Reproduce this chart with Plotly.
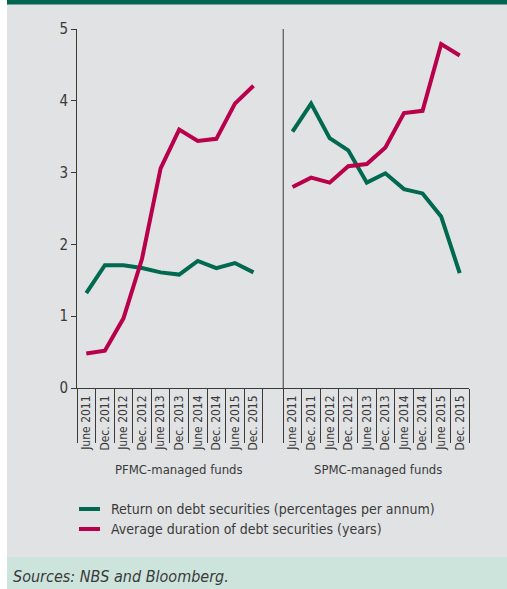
import plotly.graph_objects as go

# Half-year periods shown under each panel
periods = ["June 2011", "Dec. 2011", "June 2012", "Dec. 2012", "June 2013",
           "Dec. 2013", "June 2014", "Dec. 2014", "June 2015", "Dec. 2015"]

# PFMC-managed funds
pfmc_return = [1.32, 1.71, 1.71, 1.67, 1.61, 1.58, 1.77, 1.67, 1.74, 1.61]
pfmc_duration = [0.48, 0.52, 0.97, 1.80, 3.06, 3.60, 3.44, 3.47, 3.96, 4.21]

# SPMC-managed funds
spmc_return = [3.57, 3.96, 3.48, 3.31, 2.86, 2.99, 2.77, 2.71, 2.39, 1.60]
spmc_duration = [2.80, 2.93, 2.86, 3.09, 3.12, 3.35, 3.83, 3.86, 4.79, 4.63]

panel_titles = ["PFMC-managed funds", "SPMC-managed funds"]
series_names = ["Return on debt securities (percentages per annum)",
                "Average duration of debt securities (years)"]

GREEN = "#00694F"
RED = "#B8004B"
INK = "#3a3a3a"
FONT = "DejaVu Sans Condensed, Liberation Sans Narrow, sans-serif"

# category positions: second panel shifted right to leave a gap between panels
n = len(periods)
panel_offset = n + 1.1
x_left = list(range(n))
x_right = [panel_offset + i for i in range(n)]
centers = x_left + x_right
separators = [i - 0.5 for i in range(n + 1)] + [panel_offset + i - 0.5 for i in range(n + 1)]
divider_x = panel_offset - 0.5
x_range = [-0.5, panel_offset + n - 0.5]

fig = go.Figure()

for xs, ret, dur in [(x_left, pfmc_return, pfmc_duration),
                     (x_right, spmc_return, spmc_duration)]:
    fig.add_trace(go.Scatter(x=xs, y=ret, mode="lines", name=series_names[0],
                             line=dict(color=GREEN, width=4), showlegend=False))
    fig.add_trace(go.Scatter(x=xs, y=dur, mode="lines", name=series_names[1],
                             line=dict(color=RED, width=4), showlegend=False))

# invisible trace to carry the rotated period labels on the overlaying axis
fig.add_trace(go.Scatter(x=centers, y=[None] * len(centers), xaxis="x2",
                         showlegend=False, hoverinfo="skip"))

W, H = 507, 589
ml, mr, mt, mb = 77, 38, 29, 201
pw, ph = W - ml - mr, H - mt - mb


def px_x(px):
    return (px - ml) / pw


def px_y(py):
    return (H - mb - py) / ph


shapes = [
    # grey panel background
    dict(type="rect", xref="paper", yref="paper", x0=px_x(7), x1=px_x(W),
         y0=px_y(557), y1=px_y(0), fillcolor="#E1E2E4", line_width=0, layer="below"),
    # dark green strip at the top
    dict(type="rect", xref="paper", yref="paper", x0=px_x(7), x1=px_x(W),
         y0=px_y(4.5), y1=px_y(0), fillcolor="#00664E", line_width=0, layer="below"),
    # sources band
    dict(type="rect", xref="paper", yref="paper", x0=px_x(7), x1=px_x(W),
         y0=px_y(H), y1=px_y(557), fillcolor="#CDE4DC", line_width=0, layer="below"),
    # panel divider
    dict(type="line", xref="x", yref="y", x0=divider_x, x1=divider_x, y0=0, y1=5.03,
         line=dict(color=INK, width=1)),
]

annotations = [
    dict(text=panel_titles[0], x=(n - 1) / 2 + 0.5, y=px_y(469), xref="x", yref="paper",
         yanchor="middle", showarrow=False, font=dict(family=FONT, size=13, color=INK)),
    dict(text=panel_titles[1], x=panel_offset + (n - 1) / 2 + 0.1, y=px_y(469), xref="x",
         yref="paper", yanchor="middle", showarrow=False,
         font=dict(family=FONT, size=13, color=INK)),
    dict(text="<i>Sources: NBS and Bloomberg.</i>", x=px_x(11), y=px_y(576), xref="paper",
         yref="paper", xanchor="left", yanchor="middle", showarrow=False,
         font=dict(family=FONT, size=16, color=INK)),
]

# legend drawn as short thick swatches with labels beside them
legend_rows = [(series_names[0], GREEN, 509), (series_names[1], RED, 529)]
for label, color, row_y in legend_rows:
    shapes.append(dict(type="line", xref="paper", yref="paper", x0=px_x(79), x1=px_x(100),
                       y0=px_y(row_y), y1=px_y(row_y), line=dict(color=color, width=4)))
    annotations.append(dict(text=label, x=px_x(109), y=px_y(row_y), xref="paper",
                            yref="paper", xanchor="left", yanchor="middle",
                            showarrow=False, font=dict(family=FONT, size=14, color=INK)))

fig.update_layout(
    width=W, height=H,
    margin=dict(l=ml, r=mr, t=mt, b=mb),
    paper_bgcolor="white",
    plot_bgcolor="rgba(0,0,0,0)",
    font=dict(family=FONT, color=INK, size=13),
    shapes=shapes,
    annotations=annotations,
    showlegend=False,
    xaxis=dict(range=x_range, tickvals=separators, showticklabels=False,
               ticks="outside", ticklen=54, tickcolor=INK, tickwidth=1,
               showline=True, linecolor=INK, linewidth=1, showgrid=False,
               zeroline=False, fixedrange=True),
    xaxis2=dict(overlaying="x", side="bottom", matches="x", range=x_range,
                tickvals=centers, ticktext=periods + periods, tickangle=-90,
                ticks="", showline=False, showgrid=False, zeroline=False,
                ticklabelstandoff=4,
                tickfont=dict(family=FONT, size=12, color=INK)),
    yaxis=dict(range=[0, 5], dtick=1, ticks="outside", ticklen=5, tickcolor=INK,
               showline=True, linecolor=INK, linewidth=1, showgrid=False,
               zeroline=False, tickfont=dict(family=FONT, size=15, color=INK)),
)

fig.write_html("out.html")
